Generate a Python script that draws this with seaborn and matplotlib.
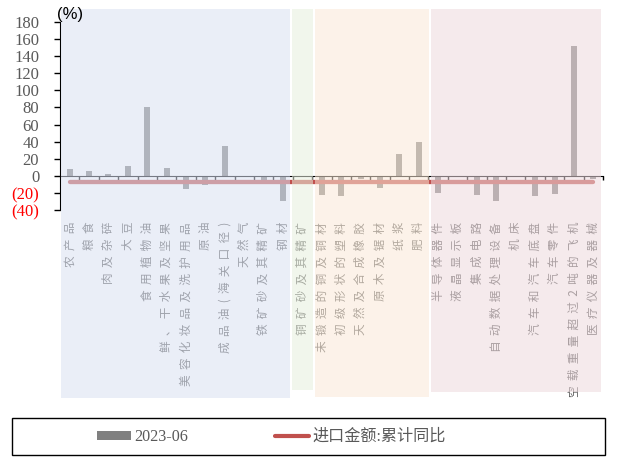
import matplotlib
matplotlib.use("Agg")
import matplotlib.pyplot as plt
import matplotlib.transforms as mtransforms
from matplotlib.patches import Rectangle
from matplotlib.lines import Line2D
from matplotlib.ticker import FixedLocator
import seaborn as sns
import pandas as pd

categories = ["农产品", "粮食", "肉及杂碎", "大豆", "食用植物油", "鲜、干水果及坚果",
              "美容化妆品及洗护用品", "原油", "成品油(海关口径)", "天然气", "铁矿砂及其精矿", "钢材",
              "铜矿砂及其精矿",
              "未锻造的铜及铜材", "初级形状的塑料", "天然及合成橡胶", "原木及锯材", "纸浆", "肥料",
              "半导体器件", "液晶显示板", "集成电路", "自动数据处理设备", "机床", "汽车和汽车底盘",
              "汽车零件", "空载重量超过2吨的飞机", "医疗仪器及器械"]
values_2023_06 = [8, 6, 2, 11, 80, 9, -15, -11, 35, -1, -5, -29,
                  -1,
                  -23, -24, -4, -14, 25, 40,
                  -20, -1, -23, -30, -1, -24, -21, 152, -4]
import_total_yoy = [-6.7, -6.7, -6.7, -6.7, -6.7, -6.7, -6.7, -6.7, -6.7, -6.7, -6.7, -6.7,
                    -6.7,
                    -6.7, -6.7, -6.7, -6.7, -6.7, -6.7,
                    -6.7, -6.7, -6.7, -6.7, -6.7, -6.7, -6.7, -6.7, -6.7]
ytick_values = [-40, -20, 0, 20, 40, 60, 80, 100, 120, 140, 160, 180]
ytick_labels = ["(40)", "(20)", "0", "20", "40", "60", "80", "100", "120", "140", "160", "180"]
series_names = ["2023-06", "进口金额:累计同比"]

W, H = 619, 458
fig = plt.figure(figsize=(W / 100, H / 100), dpi=100)
ax = fig.add_axes([60 / W, 1 - 210 / H, 543 / W, 188 / H])

df = pd.DataFrame({"cat": categories, "val": values_2023_06, "line": import_total_yoy})
bar_color = "#808080"
line_color = "#c0504d"
sns.barplot(data=df, x="cat", y="val", color=bar_color, saturation=1, width=0.31, ax=ax, zorder=1)
ax.plot(range(len(categories)), df["line"], color=line_color, lw=3.1,
        solid_capstyle="round", zorder=2)

ax.set_xlim(-0.5, len(categories) - 0.5)
ax.set_ylim(-40, 180)
ax.set_xlabel("")
ax.set_ylabel("")
for s in ["top", "right"]:
    ax.spines[s].set_visible(False)
ax.spines["bottom"].set_position(("data", 0))
ax.spines["bottom"].set_color("#000000")
ax.spines["left"].set_color("#000000")
ax.spines["left"].set_bounds(-40, 180)
ax.patch.set_visible(False)

ax.set_yticks(ytick_values)
ax.set_yticklabels(ytick_labels, fontfamily="Liberation Serif", fontsize=12)
for lab, v in zip(ax.get_yticklabels(), ytick_values):
    lab.set_color("#ff0000" if v < 0 else "#595959")
ax.tick_params(axis="y", direction="out", length=4, width=1, color="#000000", pad=11)

ax.set_xticks(range(len(categories)))
spaced = ["  ".join(list(c)) for c in categories]
ax.set_xticklabels(spaced, rotation=90, va="top", ha="center",
                   fontfamily=["Noto Sans CJK SC", "DejaVu Sans"], fontsize=8.4, color="#595959")
ax.tick_params(axis="x", which="major", length=0, pad=0)
ax.xaxis.set_minor_locator(FixedLocator([i + 0.5 for i in range(len(categories))]))
ax.tick_params(axis="x", which="minor", direction="out", length=3, width=1, color="#000000")
trans_lab = mtransforms.blended_transform_factory(ax.transData, fig.transFigure)
for lab in ax.get_xticklabels():
    lab.set_transform(trans_lab)
    lab.set_position((lab.get_position()[0], 1 - 222 / H))

# overlay shaded group regions (drawn on top with transparency)
trans = mtransforms.blended_transform_factory(ax.transData, fig.transFigure)
groups = [(-0.47, 11.36, 398.3, "#d9e0f1"),
          (11.48, 12.56, 390.0, "#e7efdd"),
          (12.64, 18.55, 396.7, "#fbe9d7"),
          (18.62, 27.40, 392.3, "#edd9dd")]
top = 1 - 9 / H
for x0, x1, bot_px, col in groups:
    yb = 1 - bot_px / H
    r = Rectangle((x0, yb), x1 - x0, top - yb, transform=trans, facecolor=col,
                  edgecolor="none", alpha=0.55, zorder=5)
    fig.add_artist(r)

fig.text(57 / W, 1 - 15 / H, "(%)", fontfamily="Liberation Sans", fontsize=12,
         color="#000000", ha="left", va="center", zorder=10)

# legend box
fig.add_artist(Rectangle((12 / W, 1 - 455 / H), 593 / W, 37 / H, transform=fig.transFigure,
                         facecolor="white", edgecolor="#000000", lw=1, zorder=6))
handles = [Rectangle((0, 0), 1, 1, facecolor=bar_color, edgecolor="none"),
           Line2D([0], [0], color=line_color, lw=3, solid_capstyle="round")]
leg = fig.legend(handles, series_names, loc="center left",
                 bbox_to_anchor=(97 / W, 1 - 437 / H), ncol=2, frameon=False,
                 borderpad=0, borderaxespad=0, handlelength=2.1, handleheight=0.45,
                 handletextpad=0.2, columnspacing=5.4,
                 prop={"family": ["Liberation Serif", "Noto Sans CJK SC"], "size": 11.6})
leg.set_zorder(7)
for t in leg.get_texts():
    t.set_color("#595959")

fig.savefig("out.png", dpi=100)
